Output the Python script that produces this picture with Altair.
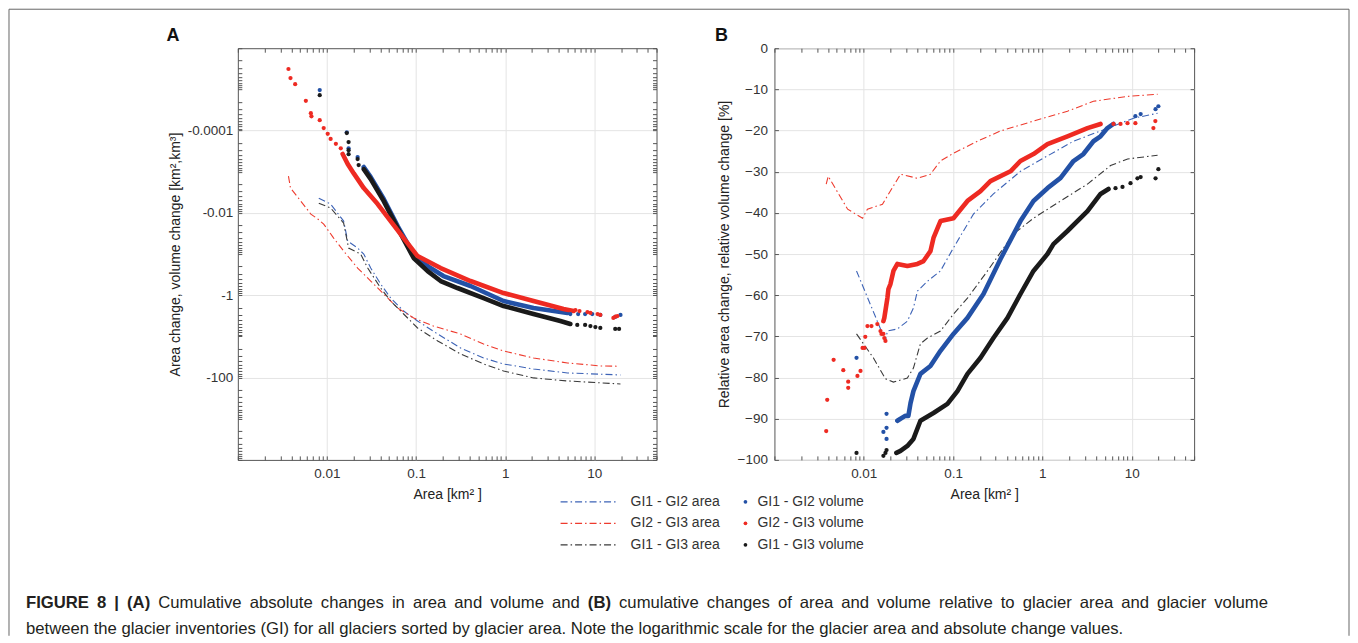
import altair as alt
import pandas as pd

FONT = "Liberation Sans"

# ---------------- Panel A : cumulative absolute change (negative values) ----------------
A_AREA12_X = [0.0081, 0.011, 0.0154, 0.0171, 0.0221, 0.0259, 0.031, 0.0401, 0.0519, 0.0726, 0.104, 0.175, 0.316, 0.573, 0.96, 2.08, 5.01, 19.7]
A_AREA12_Y = [-4.4e-3, -6.1e-3, -0.0158, -0.0483, -0.0715, -0.1, -0.219, -0.535, -1.17, -2.42, -4.23, -8.75, -19.1, -33.4, -46.8, -61.8, -77.3, -86.5]
A_AREA23_X = [0.0037, 0.0039, 0.0051, 0.0066, 0.0079, 0.0092, 0.0119, 0.0154, 0.0221, 0.031, 0.0434, 0.0622, 0.094, 0.157, 0.316, 0.573, 0.96, 2.08, 5.01, 11.7, 18.2]
A_AREA23_Y = [-1.28e-3, -2.5e-3, -5.2e-3, -0.0107, -0.0141, -0.0187, -0.041, -0.0845, -0.219, -0.452, -0.935, -2.05, -3.57, -5.6, -8.75, -15.3, -22.6, -33.4, -44.2, -52.2, -53.0]
A_AREA13_X = [0.0081, 0.011, 0.0154, 0.0175, 0.0239, 0.0287, 0.0401, 0.0519, 0.0726, 0.104, 0.175, 0.316, 0.573, 0.96, 2.08, 5.01, 19.7]
A_AREA13_Y = [-5.8e-3, -7.6e-3, -0.0177, -0.0715, -0.1, -0.219, -0.668, -1.38, -2.86, -6.25, -12.9, -26.7, -46.8, -69.2, -102, -121, -143]

# volume changes: isolated dots and the dense run of dots
A_VOL12_DOT_X = [0.0083, 0.0167, 0.0175, 0.0221, 5.39, 6.6, 7.9, 9.5, 11.7, 17.2, 19.7]
A_VOL12_DOT_Y = [-1.04e-5, -1.1e-4, -2.7e-4, -4.4e-4, -2.86, -2.86, -2.86, -2.86, -3.02, -3.37, -3.02]
A_VOL12_RUN_X = [0.0259, 0.031, 0.0434, 0.0622, 0.094, 0.135, 0.203, 0.409, 0.96, 2.08, 5.01]
A_VOL12_RUN_Y = [-7.7e-4, -1.35e-3, -4.6e-3, -0.021, -0.1, -0.196, -0.342, -0.598, -1.38, -2.05, -2.7]

A_VOL23_DOT_X = [0.0037, 0.0039, 0.0044, 0.0058, 0.0066, 0.0067, 0.0083, 0.0092, 0.0102, 0.011, 0.0126, 0.0143,
                 6.15, 6.83, 8.39, 9.06, 10.9, 11.7, 16.4, 17.3, 18.2]
A_VOL23_DOT_Y = [-3.2e-6, -5.3e-6, -7.5e-6, -1.9e-5, -3.8e-5, -4.5e-5, -5.6e-5, -8.7e-5, -1.2e-4, -1.6e-4, -2.1e-4, -2.7e-4,
                 -2.29, -2.42, -2.56, -2.70, -2.86, -3.02, -3.57, -3.3, -3.2]
A_VOL23_RUN_X = [0.015, 0.0171, 0.020, 0.0259, 0.0371, 0.0519, 0.0726, 0.104, 0.189, 0.409, 0.96, 2.08, 4.52, 5.85]
A_VOL23_RUN_Y = [-3.7e-4, -6.5e-4, -1.1e-3, -2.5e-3, -6.1e-3, -0.0158, -0.041, -0.112, -0.219, -0.452, -0.885, -1.38, -2.16, -2.42]

A_VOL13_DOT_X = [0.0083, 0.0167, 0.0175, 0.0175, 0.0175, 0.0221, 0.0227, 6.45, 7.9, 9.06, 10.3, 11.7, 17.2, 19.0]
A_VOL13_DOT_Y = [-1.38e-5, -1.15e-4, -1.91e-4, -2.99e-4, -3.74e-4, -4.94e-4, -6.9e-4, -5.28, -5.28, -5.6, -5.92, -6.25, -6.6, -6.6]
A_VOL13_RUN_X = [0.0259, 0.031, 0.0434, 0.0622, 0.094, 0.135, 0.189, 0.292, 0.573, 0.96, 2.08, 4.17, 5.39]
A_VOL13_RUN_Y = [-8.65e-4, -1.51e-3, -5.17e-3, -0.0234, -0.125, -0.259, -0.452, -0.668, -1.17, -1.83, -2.86, -4.23, -5.0]

# ---------------- Panel B : relative change [%] ----------------
B_AREA12_X = [0.0083, 0.0175, 0.0184, 0.0238, 0.0308, 0.036, 0.0399, 0.0517, 0.0723, 0.101, 0.169, 0.283, 0.568, 1.03, 2.23, 4.48, 10.5, 19.5]
B_AREA12_Y = [-54.1, -71.1, -68.7, -68.2, -66.3, -63.1, -59.0, -56.6, -54.1, -48.5, -40.3, -35.4, -29.9, -26.7, -22.6, -20.1, -17.0, -15.8]
B_AREA23_X = [0.0038, 0.0040, 0.0066, 0.0097, 0.011, 0.0162, 0.0258, 0.0399, 0.0558, 0.0723, 0.101, 0.187, 0.340, 0.795, 1.91, 3.73, 8.98, 19.5]
B_AREA23_Y = [-33.0, -31.1, -39.1, -41.3, -39.1, -37.9, -30.6, -31.6, -30.6, -27.4, -25.5, -22.6, -20.1, -17.7, -15.3, -12.9, -11.7, -11.2]
B_AREA13_X = [0.0083, 0.0128, 0.0175, 0.0215, 0.0308, 0.036, 0.0431, 0.0517, 0.0723, 0.101, 0.145, 0.243, 0.475, 0.795, 1.60, 3.20, 5.8, 9.0, 19.5]
B_AREA13_Y = [-69.4, -75.2, -80.3, -81.1, -80.1, -77.7, -71.8, -70.4, -68.7, -64.6, -60.7, -54.1, -45.1, -41.3, -37.1, -33.0, -28.5, -26.9, -26.0]

B_VOL12_DOT_X = [0.0083, 0.0166, 0.018, 0.018, 0.018, 11.0, 12.6, 18.5, 19.9]
B_VOL12_DOT_Y = [-75.2, -93.2, -88.8, -92.2, -94.9, -16.5, -16.0, -14.8, -14.1]
B_VOL12_RUN_X = [0.0238, 0.0258, 0.0293, 0.0316, 0.0334, 0.036, 0.0431, 0.0558, 0.0723, 0.101, 0.145, 0.219, 0.340, 0.568,
                 0.795, 1.14, 1.60, 2.23, 2.88, 3.73, 4.48, 5.35, 6.25]
B_VOL12_RUN_Y = [-90.5, -90.0, -89.3, -89.3, -86.2, -83.3, -79.1, -77.2, -73.5, -69.4, -65.5, -59.7, -51.2, -42.0,
                 -37.1, -34.0, -31.5, -27.4, -25.7, -22.6, -21.4, -19.4, -18.4]

B_VOL23_DOT_X = [0.0038, 0.0039, 0.0046, 0.0059, 0.0067, 0.0067, 0.0085, 0.0092, 0.0097, 0.0102, 0.0104, 0.011, 0.0122,
                 0.0142, 0.0154, 0.0158, 0.0166, 0.017, 0.0175, 6.25, 7.5, 8.98, 11.0, 17.5, 18.4]
B_VOL23_DOT_Y = [-93.0, -85.4, -75.7, -78.2, -81.0, -82.5, -79.6, -78.4, -72.8, -72.8, -70.1, -67.5, -67.5,
                 -67.0, -68.7, -69.4, -69.4, -70.4, -71.1, -18.4, -18.4, -18.2, -18.2, -19.4, -17.7]
B_VOL23_RUN_X = [0.0166, 0.017, 0.0184, 0.0189, 0.0199, 0.0215, 0.0238, 0.0308, 0.0399, 0.0467, 0.0558, 0.0604, 0.0723,
                 0.101, 0.145, 0.203, 0.262, 0.44, 0.568, 0.795, 1.14, 1.91, 3.2, 4.48]
B_VOL23_RUN_Y = [-66.3, -65.5, -60.7, -58.5, -57.3, -54.1, -52.4, -52.9, -52.4, -51.7, -49.3, -46.1, -42.0,
                 -41.3, -37.1, -34.7, -32.3, -29.9, -27.4, -25.7, -23.3, -21.4, -19.4, -18.4]

B_VOL13_DOT_X = [0.0083, 0.0166, 0.0175, 0.018, 6.59, 7.89, 9.7, 11.6, 12.6, 18.5, 19.9]
B_VOL13_DOT_Y = [-98.3, -99.0, -98.3, -97.6, -34.0, -33.7, -32.8, -31.6, -31.3, -31.6, -29.4]
B_VOL13_RUN_X = [0.0232, 0.0258, 0.0308, 0.036, 0.0431, 0.0604, 0.0865, 0.112, 0.145, 0.203, 0.283, 0.407, 0.568,
                 0.795, 1.14, 1.33, 1.91, 3.2, 4.48, 5.5]
B_VOL13_RUN_Y = [-98.3, -97.8, -96.6, -94.9, -90.5, -88.6, -86.4, -83.3, -79.1, -75.2, -70.4, -65.5, -59.7,
                 -54.1, -50.0, -47.6, -44.4, -39.6, -35.4, -34.2]

AREA_NAMES = ["GI1 - GI2 area", "GI2 - GI3 area", "GI1 - GI3 area"]
VOL_NAMES = ["GI1 - GI2 volume", "GI2 - GI3 volume", "GI1 - GI3 volume"]
AREA_COLORS = ["#3d63b6", "#ee3b2e", "#3a3a3a"]
VOL_COLORS = ["#2351a6", "#ee2a22", "#1a1a1a"]

X_MAJOR = [0.01, 0.1, 1, 10]
X_TICKS = [k * 10.0 ** e for e in range(-3, 2) for k in range(1, 10) if k * 10.0 ** e <= 50]
YA_MAJOR = [1e-4, 1e-2, 1, 100]
YA_TICKS = [k * 10.0 ** e for e in range(-6, 4) for k in range(1, 10)] + [1e4]
YB_MAJOR = list(range(-100, 1, 10))

CAPTION_1 = [("FIGURE", 1), ("8", 1), ("|", 1), ("(A)", 1), ("Cumulative", 0), ("absolute", 0), ("changes", 0), ("in", 0),
             ("area", 0), ("and", 0), ("volume", 0), ("and", 0), ("(B)", 1), ("cumulative", 0), ("changes", 0), ("of", 0),
             ("area", 0), ("and", 0), ("volume", 0), ("relative", 0), ("to", 0), ("glacier", 0), ("area", 0), ("and", 0),
             ("glacier", 0), ("volume", 0)]
CAPTION_2 = ("between the glacier inventories (GI) for all glaciers sorted by glacier area. "
             "Note the logarithmic scale for the glacier area and absolute change values.")


def frame(xs, ys, name):
    return pd.DataFrame({"area": xs, "v": ys, "series": name})


def build(groups):
    return pd.concat([frame(x, y, n) for x, y, n in groups], ignore_index=True)


linesA = build([(A_AREA12_X, A_AREA12_Y, AREA_NAMES[0]), (A_AREA23_X, A_AREA23_Y, AREA_NAMES[1]), (A_AREA13_X, A_AREA13_Y, AREA_NAMES[2])])
runA = build([(A_VOL12_RUN_X, A_VOL12_RUN_Y, VOL_NAMES[0]), (A_VOL13_RUN_X, A_VOL13_RUN_Y, VOL_NAMES[2]), (A_VOL23_RUN_X, A_VOL23_RUN_Y, VOL_NAMES[1])])
dotA = build([(A_VOL12_DOT_X, A_VOL12_DOT_Y, VOL_NAMES[0]), (A_VOL13_DOT_X, A_VOL13_DOT_Y, VOL_NAMES[2]), (A_VOL23_DOT_X, A_VOL23_DOT_Y, VOL_NAMES[1])])
for d in (linesA, runA, dotA):
    d["mag"] = -d["v"]

linesB = build([(B_AREA12_X, B_AREA12_Y, AREA_NAMES[0]), (B_AREA23_X, B_AREA23_Y, AREA_NAMES[1]), (B_AREA13_X, B_AREA13_Y, AREA_NAMES[2])])
runB = build([(B_VOL12_RUN_X, B_VOL12_RUN_Y, VOL_NAMES[0]), (B_VOL13_RUN_X, B_VOL13_RUN_Y, VOL_NAMES[2]), (B_VOL23_RUN_X, B_VOL23_RUN_Y, VOL_NAMES[1])])
dotB = build([(B_VOL12_DOT_X, B_VOL12_DOT_Y, VOL_NAMES[0]), (B_VOL13_DOT_X, B_VOL13_DOT_Y, VOL_NAMES[2]), (B_VOL23_DOT_X, B_VOL23_DOT_Y, VOL_NAMES[1])])

XS = alt.Scale(type="log", domain=[0.001, 50], nice=False)
YA = alt.Scale(type="log", domain=[1e-6, 1e4], reverse=True, nice=False)
YB = alt.Scale(type="linear", domain=[-100, 0], nice=False)
DASH = [7, 3, 1.5, 3]


def tick_axis(orient, vals):
    return alt.Axis(orient=orient, values=vals, offset=-4, tickSize=4, labels=False, domain=False,
                    grid=False, title=None, tickColor="#555", tickWidth=1)


def panel(lines_df, run_df, dot_df, yfield, yscale, y_axis, y_ticks, width, legend_lines, legend_pts, extra):
    x_main = alt.Axis(orient="bottom", values=X_MAJOR, format="~g", title="Area  [km² ]", grid=True,
                      tickSize=0, domain=False, labelPadding=7, titlePadding=7)
    area_scale = alt.Scale(domain=AREA_NAMES, range=AREA_COLORS)
    vol_scale = alt.Scale(domain=VOL_NAMES, range=VOL_COLORS)
    lines = alt.Chart(lines_df).mark_line(strokeDash=DASH, strokeWidth=1.1).encode(
        x=alt.X("area:Q", scale=XS, axis=x_main),
        y=alt.Y(f"{yfield}:Q", scale=yscale, axis=y_axis),
        color=alt.Color("series:N", scale=area_scale, legend=legend_lines),
    )
    t1 = alt.Chart(lines_df).mark_point(opacity=0).encode(
        x=alt.X("area:Q", scale=XS, axis=tick_axis("bottom", X_TICKS)),
        y=alt.Y(f"{yfield}:Q", scale=yscale, axis=tick_axis("left", y_ticks)),
    )
    t2 = alt.Chart(lines_df).mark_point(opacity=0).encode(
        x=alt.X("area:Q", scale=XS, axis=tick_axis("top", X_TICKS)),
        y=alt.Y(f"{yfield}:Q", scale=yscale, axis=tick_axis("right", y_ticks)),
    )
    run = alt.Chart(run_df).mark_line(strokeWidth=4.6, strokeCap="round", strokeJoin="round").encode(
        x=alt.X("area:Q", scale=XS, axis=None),
        y=alt.Y(f"{yfield}:Q", scale=yscale, axis=None),
        color=alt.Color("series:N", scale=vol_scale, legend=None),
    )
    dots = alt.Chart(dot_df).mark_circle(size=18, opacity=1).encode(
        x=alt.X("area:Q", scale=XS, axis=None),
        y=alt.Y(f"{yfield}:Q", scale=yscale, axis=None),
        color=alt.Color("series:N", scale=vol_scale, legend=legend_pts),
    )
    return (alt.layer(lines, t1, t2, run, dots, *extra)
            .resolve_scale(color="independent")
            .resolve_axis(x="independent", y="independent")
            .properties(width=width, height=412))


ONE = pd.DataFrame({"k": [0]})


def label(txt, x, y):
    return alt.Chart(ONE).mark_text(text=txt, font=FONT, fontSize=18, fontWeight="bold", color="#111",
                                    align="center", baseline="middle").encode(x=alt.value(x), y=alt.value(y))


# caption layout (line 1 is justified across the text block)
REG_W = dict(zip("abcdefghijklmnopqrstuvwxyz",
                 [556, 556, 500, 556, 556, 278, 556, 556, 222, 222, 500, 222, 833, 556, 556, 556, 556, 333, 500, 278, 556, 500, 722, 500, 500, 500]))
REG_W.update({"C": 722})
BOLD_W = {"F": 611, "I": 278, "G": 778, "U": 722, "R": 722, "E": 667, "8": 556, "|": 280, "(": 333, ")": 333, "A": 722, "B": 722}
CAP_SIZE = 16.7
CAP_LEFT = -212
CAP_LINE_W = 1243


def wwidth(s, bold):
    tab = BOLD_W if bold else REG_W
    return sum(tab[c] for c in s) * CAP_SIZE / 1000.0


widths = [wwidth(w, b) for w, b in CAPTION_1]
gap = (CAP_LINE_W - sum(widths)) / (len(CAPTION_1) - 1)
xs, cur = [], CAP_LEFT
for wd in widths:
    xs.append(cur)
    cur += wd + gap
cap_df = pd.DataFrame({"word": [w for w, _ in CAPTION_1], "bold": [b for _, b in CAPTION_1], "px": xs})

CAP_Y1, CAP_Y2 = 555, 581
cap_bold = alt.Chart(cap_df).transform_filter("datum.bold == 1").mark_text(
    font=FONT, fontSize=CAP_SIZE, fontWeight="bold", color="#231f20", align="left", baseline="middle").encode(
    x=alt.X("px:Q", scale=None, axis=None), y=alt.value(CAP_Y1), text="word:N")
cap_reg = alt.Chart(cap_df).transform_filter("datum.bold == 0").mark_text(
    font=FONT, fontSize=CAP_SIZE, color="#231f20", align="left", baseline="middle").encode(
    x=alt.X("px:Q", scale=None, axis=None), y=alt.value(CAP_Y1), text="word:N")
cap2 = alt.Chart(ONE).mark_text(text=CAPTION_2, font=FONT, fontSize=CAP_SIZE, color="#231f20",
                                align="left", baseline="middle").encode(x=alt.value(CAP_LEFT), y=alt.value(CAP_Y2))

FR = "#666"
frame_top = alt.Chart(ONE).mark_rule(color=FR, strokeWidth=1).encode(x=alt.value(-229), x2=alt.value(1112), y=alt.value(-39))
frame_left = alt.Chart(ONE).mark_rule(color=FR, strokeWidth=1).encode(x=alt.value(-229), y=alt.value(-39), y2=alt.value(588))
frame_right = alt.Chart(ONE).mark_rule(color=FR, strokeWidth=1).encode(x=alt.value(1112), y=alt.value(-39), y2=alt.value(588))

legend_lines = alt.Legend(orient="none", legendX=322, legendY=447, title=None, symbolType="stroke", symbolSize=3025,
                          symbolStrokeWidth=1.2, symbolDash=DASH, clipHeight=14, rowPadding=7.5, labelOffset=14,
                          labelFontSize=14, labelFont=FONT, labelColor="#333", padding=0)
legend_pts = alt.Legend(orient="none", legendX=501, legendY=447, title=None, symbolType="circle", symbolSize=14,
                        clipHeight=14, rowPadding=7.5, labelOffset=5, labelFontSize=14, labelFont=FONT,
                        labelColor="#333", padding=0)

ya_axis = alt.Axis(orient="left", values=YA_MAJOR, format="~g", labelExpr="'-' + datum.label", grid=True,
                   tickSize=0, domain=False, labelPadding=5, titlePadding=5,
                   title="Area change, volume change [km²,km³]")
yb_axis = alt.Axis(orient="left", values=YB_MAJOR, format="d", grid=True, tickSize=0, domain=False,
                   labelPadding=7, titlePadding=6, title="Relative area change, relative volume change [%]")

panelA = panel(linesA, runA, dotA, "mag", YA, ya_axis, YA_TICKS, 419, legend_lines, legend_pts,
               [label("A", -65, -12), frame_top, frame_left, frame_right, cap_bold, cap_reg, cap2])
panelB = panel(linesB, runB, dotB, "v", YB, yb_axis, YB_MAJOR, 420, None, None, [label("B", -53, -12)])

chart = (alt.hconcat(panelA, panelB, spacing=118, bounds="flush")
         .resolve_scale(color="independent")
         .properties(padding=0, background="white")
         .configure_axis(labelFont=FONT, titleFont=FONT, labelFontSize=13.5, titleFontSize=14,
                         titleFontWeight="normal", labelColor="#333", titleColor="#222",
                         gridColor="#e4e4e4", gridWidth=1, tickColor="#555", labelFlush=False, labelOverlap=False)
         .configure_view(stroke="#555", strokeWidth=1))

chart.save("out.html", embed_options={"renderer": "svg", "actions": False})
